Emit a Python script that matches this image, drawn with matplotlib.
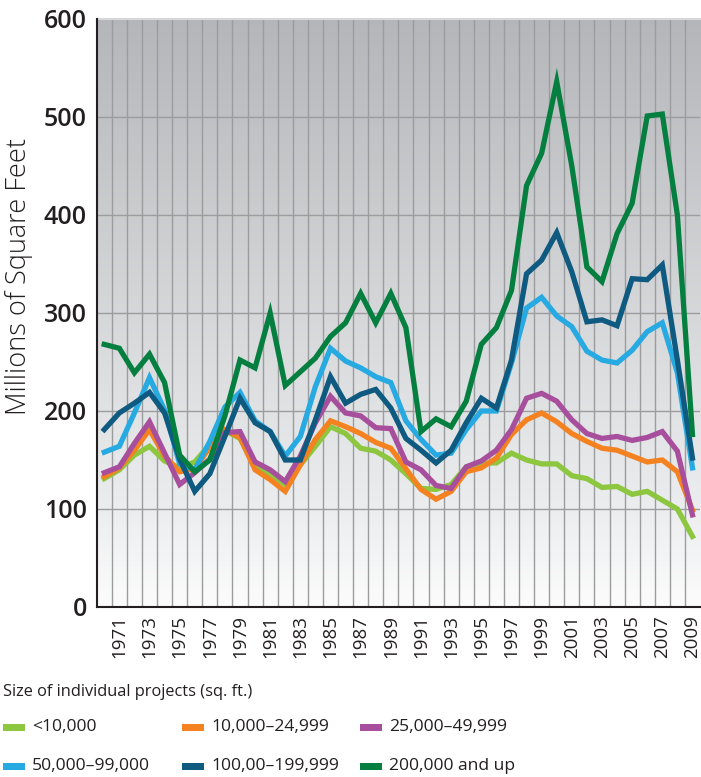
import matplotlib
matplotlib.use("Agg")
import matplotlib.pyplot as plt
import numpy as np
from matplotlib.patches import Rectangle

years = list(range(1970, 2010))

lt_green = [131, 140, 155, 164, 149, 142, 148, 166, 180, 172, 143, 136, 125, 145, 164, 184, 177, 162, 159, 150,
            136, 121, 120, 125, 143, 147, 147, 157, 150, 146, 146, 134, 131, 122, 123, 115, 118, 109, 100, 72]
orange = [133, 142, 160, 181, 154, 138, 141, 163, 181, 173, 140, 130, 118, 145, 171, 190, 184, 177, 168, 162,
          141, 120, 110, 118, 138, 142, 152, 176, 191, 198, 189, 177, 169, 162, 160, 154, 148, 150, 138, 99]
purple = [137, 143, 167, 189, 157, 125, 137, 151, 178, 179, 148, 140, 128, 154, 188, 215, 198, 195, 183, 182,
          148, 140, 124, 121, 143, 149, 160, 181, 213, 218, 210, 191, 177, 172, 174, 170, 173, 179, 159, 94]
lt_blue = [158, 164, 198, 234, 201, 146, 140, 169, 204, 219, 190, 179, 154, 174, 225, 264, 251, 244, 235, 229,
           190, 171, 155, 157, 181, 200, 200, 249, 305, 316, 297, 286, 261, 252, 249, 262, 281, 290, 239, 142]
dk_blue = [181, 198, 208, 219, 198, 151, 118, 136, 174, 213, 188, 179, 150, 150, 191, 235, 208, 217, 222, 203,
           172, 160, 147, 160, 188, 213, 203, 252, 340, 354, 382, 342, 291, 293, 287, 335, 334, 349, 252, 152]
dk_green = [268, 264, 239, 258, 229, 155, 138, 150, 195, 252, 244, 300, 226, 240, 254, 276, 290, 320, 290, 320,
            285, 179, 192, 184, 210, 268, 285, 323, 430, 463, 536, 450, 347, 332, 381, 412, 501, 503, 400, 176]

series = [lt_green, orange, purple, lt_blue, dk_blue, dk_green]
labels = ["<10,000", "10,000\u201324,999", "25,000\u201349,999",
          "50,000\u201399,000", "100,00\u2013199,999", "200,000 and up"]
colors = ["#8dc63f", "#f58220", "#a74f9c", "#27aae1", "#0f5a80", "#057f40"]

yticks = [0, 100, 200, 300, 400, 500, 600]
xtick_years = list(range(1971, 2010, 2))

plt.rcParams['font.family'] = ['Open Sans', 'DejaVu Sans']
TXT = "#231f20"

W, H = 701, 777
fig = plt.figure(figsize=(W / 100, H / 100), dpi=100)
L, R, T, B = 96.7, 700, 19, 607
ax = fig.add_axes([L / W, 1 - B / H, (R - L) / W, (B - T) / H])

n = len(years)
ax.set_xlim(-0.5, n - 0.5)
ax.set_ylim(0, 600)

# background gradient
stops_v = np.array([0, 100, 600])
stops_c = np.array([[252, 252, 252], [236, 237, 239], [180, 182, 185]]) / 255
vv = np.linspace(0, 600, 400)
grad = np.stack([np.interp(vv, stops_v, stops_c[:, k]) for k in range(3)], axis=-1)[:, None, :]
ax.imshow(grad, extent=[-0.5, n - 0.5, 0, 600], origin="lower", aspect="auto", zorder=0,
          interpolation="bilinear")

# grid
for i in range(n - 1):
    ax.axvline(i + 0.5, color="#9b9c9e", lw=1.0, zorder=1)
for y in yticks[1:-1]:
    ax.axhline(y, color="#9b9c9e", lw=1.0, zorder=1)

x = np.arange(n)
for s, c in zip(series, colors):
    ax.plot(x, s, color=c, lw=3.8, solid_joinstyle="miter", zorder=3)

ax.spines["right"].set_visible(False)
ax.spines["top"].set_color("#d6d7d8")
ax.spines["top"].set_linewidth(1.5)
for sp in ["left", "bottom"]:
    ax.spines[sp].set_color(TXT)
    ax.spines[sp].set_linewidth(1.5)
    ax.spines[sp].set_zorder(4)

ax.set_yticks(yticks)
ax.set_yticklabels([str(v) for v in yticks], fontsize=18, fontweight="semibold", color=TXT)
ax.tick_params(axis="y", length=0, pad=7)
ax.set_xticks([years.index(y) for y in xtick_years])
ax.set_xticklabels([str(y) for y in xtick_years], rotation=90, fontsize=13.5, color=TXT)
ax.tick_params(axis="x", length=0, pad=6)

ax.set_ylabel("Millions of Square Feet", fontsize=19.5, fontweight="light", color=TXT)
ax.yaxis.set_label_coords((33 - L) / (R - L), (B - 276.5) / (B - T))

# legend
fig.text(3 / W, 1 - 692 / H, "Size of individual projects (sq. ft.)", fontsize=11.8,
         color=TXT, va="center", ha="left")
col_x = [3, 182, 360]
row_y = [727, 766]
for k, (lab, c) in enumerate(zip(labels, colors)):
    r, cidx = divmod(k, 3)
    px, py = col_x[cidx], row_y[r]
    fig.patches.append(Rectangle((px / W, 1 - (py + 4) / H), 22 / W, 7 / H,
                                 transform=fig.transFigure, facecolor=c, edgecolor="none"))
    fig.text((px + 29) / W, 1 - py / H, lab, fontsize=12.6, color=TXT, va="center", ha="left")

fig.savefig("out.png", dpi=100)
